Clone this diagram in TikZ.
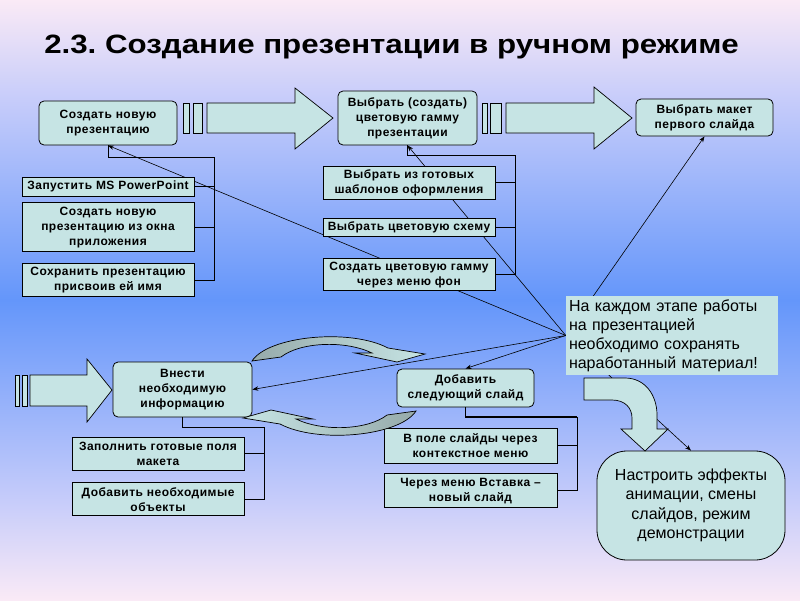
\documentclass[tikz,border=0pt]{standalone}
\usepackage{fontspec}
\setmainfont{Liberation Sans}
\newfontfamily\spacedsans[LetterSpace=4, Ligatures=TeX]{Liberation Sans}
\usepackage{tikz}
\usetikzlibrary{positioning, arrows.meta}
\frenchspacing

\definecolor{boxfill}{RGB}{198,228,228}
\definecolor{arcgray}{RGB}{150,170,170}
\definecolor{bgpink}{RGB}{250,234,246}
\definecolor{bglilac}{RGB}{200,205,250}
\definecolor{bgblue}{RGB}{100,150,250}
\pgfdeclareverticalshading{slidebg}{100bp}{color(0bp)=(bgpink); color(25bp)=(bgpink); color(33bp)=(bglilac); color(50bp)=(bgblue); color(67bp)=(bglilac); color(75bp)=(bgpink); color(100bp)=(bgpink)}
\pgfdeclarelayer{bg}
\pgfdeclarelayer{links}
\pgfsetlayers{bg,links,main}

\newcommand{\boxtext}{\spacedsans\bfseries\fontsize{12}{15}\selectfont}
\tikzstyle{stage} = [draw, rounded corners=5pt, fill=boxfill, align=center, font=\boxtext, line width=0.8pt, inner sep=2pt]
\tikzstyle{substep} = [draw, fill=boxfill, align=center, font=\boxtext, line width=0.8pt, inner sep=2pt, minimum width=172pt]
\tikzstyle{blockarrow} = [draw, fill=boxfill, line width=0.7pt]
\tikzstyle{cyclearc} = [draw, line width=0.7pt]
\tikzstyle{link} = [line width=0.9pt]
\tikzstyle{pointer} = [line width=0.6pt, ->, >={Stealth[length=6pt,width=4.5pt]}]

\begin{document}
\begin{tikzpicture}[x=1pt, y=-1pt]
  \useasboundingbox (0,0) rectangle (800,600);
  \begin{pgfonlayer}{bg}
    \shade[shading=slidebg] (0,0) rectangle (800,600);
  \end{pgfonlayer}

  % Title
  \node[font=\bfseries\fontsize{26.5}{32}\selectfont] (title) at (391.5,47) {\scalebox{1.18}[1]{2.3. Создание презентации в ручном режиме}};

  % Main stages
  \node[stage, minimum width=138pt, minimum height=44pt] (new) at (108,123) {Создать новую\\презентацию};
  \node[stage, minimum width=139pt, minimum height=54pt] (scheme) at (407.5,118) {Выбрать (создать)\\цветовую гамму\\презентации};
  \node[stage, minimum width=137pt, minimum height=37pt] (layout) at (704.5,117.5) {Выбрать макет\\первого слайда};
  \node[stage, minimum width=139pt, minimum height=55pt] (enter) at (182.5,389.5) {Внести\\необходимую\\информацию};
  \node[stage, minimum width=137pt, minimum height=38pt] (addslide) at (465.5,388) {Добавить\\следующий слайд};
  \node[stage, rounded corners=30pt, minimum width=188pt, minimum height=109pt, font=\fontsize{16}{19.5}\selectfont] (effects) at (691,505.5) {Настроить эффекты\\анимации, смены\\слайдов, режим\\демонстрации};

  % Sub-steps
  \node[substep, minimum height=19pt] (launch) at (108,186.5) {Запустить MS PowerPoint};
  \node[substep, minimum height=49pt, below=6pt of launch] (fromwin) {Создать новую\\презентацию из окна\\приложения};
  \node[substep, minimum height=33pt, below=11pt of fromwin] (saveas) {Сохранить презентацию\\присвоив ей имя};

  \node[substep, minimum height=33pt] (templ) at (409,182.5) {Выбрать из готовых\\шаблонов оформления};
  \node[substep, minimum height=18pt, below=19pt of templ] (colsch) {Выбрать цветовую схему};
  \node[substep, minimum height=32pt, below=21pt of colsch] (bgmenu) {Создать цветовую гамму\\через меню фон};

  \node[substep, minimum height=33pt] (fillin) at (158,453.5) {Заполнить готовые поля\\макета};
  \node[substep, minimum height=33pt, below=12pt of fillin] (addobj) {Добавить необходимые\\объекты};

  \node[substep, minimum width=173pt, minimum height=35pt] (ctxmenu) at (470.5,445.5) {В поле слайды через\\контекстное меню};
  \node[substep, minimum width=173pt, minimum height=34pt, below=10pt of ctxmenu] (insmenu) {Через меню Вставка –\\новый слайд};

  % Note
  \node[fill=boxfill, align=left, text width=206pt, inner sep=3pt, minimum height=75pt, font=\fontsize{16}{19}\selectfont] (note) at (672,335.5) {На каждом этапе работы\\на презентацией\\необходимо сохранять\\наработанный материал!};
  \coordinate (apex) at (note.west);

  % Block arrows
  \draw[blockarrow] (183,103) rectangle (189,133);
  \draw[blockarrow] (193,103) rectangle (202,133);
  \draw[blockarrow] (207,103) -- (295,103) -- (295,88) -- (333,118) -- (295,149) -- (295,133) -- (207,133) -- cycle;
  \draw[blockarrow] (482,103) rectangle (487,133);
  \draw[blockarrow] (490,103) rectangle (501,133);
  \draw[blockarrow] (506,103) -- (594,103) -- (594,87) -- (632,118) -- (594,149) -- (594,133) -- (506,133) -- cycle;
  \draw[blockarrow] (15,375) rectangle (19,406);
  \draw[blockarrow] (22,375) rectangle (27,406);
  \draw[blockarrow] (30,375) -- (87,375) -- (87,359) -- (112,390) -- (87,422) -- (87,406) -- (30,406) -- cycle;
  \draw[blockarrow] (584,378) -- (625,378) .. controls (645,378) and (657,395) .. (657,415) -- (657,429) -- (668,429) -- (645,451) -- (621,429) -- (632,429) -- (632,418) .. controls (632,408) and (625,400) .. (612,400) -- (584,400) -- cycle;

  % Cycle arrows
  \draw[cyclearc, left color=arcgray, right color=boxfill] (252,361) .. controls (268,336) and (350,328) .. (388,348) -- (425,354) -- (397,362) -- (355,353) -- (372,353) .. controls (345,340) and (300,342) .. (281,357) -- cycle;
  \draw[cyclearc, left color=boxfill, right color=arcgray, rotate around={180:(334,386)}] (252,361) .. controls (268,336) and (350,328) .. (388,348) -- (425,354) -- (397,362) -- (355,353) -- (372,353) .. controls (345,340) and (300,342) .. (281,357) -- cycle;

  % Connectors
  \coordinate (busnew) at (214,157);
  \draw[link] (new.south) |- (busnew) |- (saveas.east);
  \draw[link] (launch.east) -- (launch.east -| busnew);
  \draw[link] (fromwin.east) -- (fromwin.east -| busnew);

  \coordinate (busscheme) at (515,155);
  \draw[link] (scheme.south) |- (busscheme) |- (bgmenu.east);
  \draw[link] (templ.east) -- (templ.east -| busscheme);
  \draw[link] (colsch.east) -- (colsch.east -| busscheme);

  \coordinate (busenter) at (264,427);
  \draw[link] (enter.south) |- (busenter) |- (addobj.east);
  \draw[link] (fillin.east) -- (fillin.east -| busenter);

  \coordinate (busslide) at (577,417);
  \draw[link, line width=1.8pt] (addslide.south) |- (busslide);
  \draw[link] (busslide) |- (insmenu.east);
  \draw[link] (ctxmenu.east) -- (ctxmenu.east -| busslide);

  \begin{pgfonlayer}{links}
    \foreach \target/\side in {new/south, scheme/south, layout/south, enter/east, addslide/north, effects/north}
      \draw[pointer] (apex) -- (\target.\side);
  \end{pgfonlayer}
\end{tikzpicture}
\end{document}
